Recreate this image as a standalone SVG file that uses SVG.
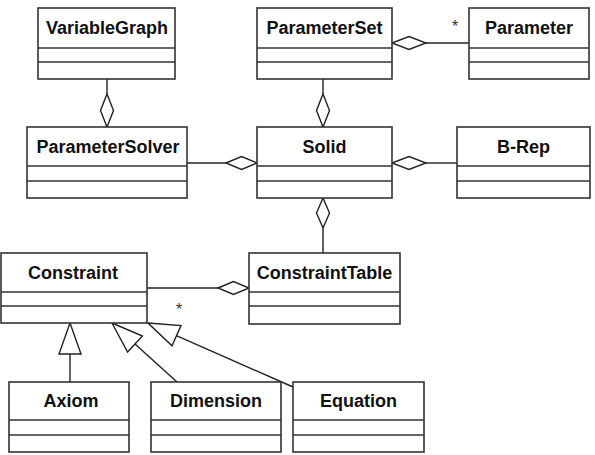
<svg xmlns="http://www.w3.org/2000/svg" width="595" height="455" viewBox="0 0 595 455">
<style>
.box{fill:#fff;stroke:#333;stroke-width:1.6}
.div{stroke:#333;stroke-width:1.6}
.t{font-family:"Liberation Sans",Arial,sans-serif;font-weight:bold;font-size:18px;fill:#111;text-anchor:middle}
.ln{fill:none;stroke:#222;stroke-width:1.4}
.dia{fill:#fff;stroke:#222;stroke-width:1.4}
.m{font-family:"Liberation Sans",Arial,sans-serif;font-size:16px;fill:#333;text-anchor:middle}
</style>
<rect width="595" height="455" fill="#fff"/>
<g id="connectors">
<line class="ln" x1="107" y1="79" x2="107" y2="94"/>
<polygon class="dia" points="107,94 113.5,110.5 107,127 100.5,110.5"/>
<line class="ln" x1="426" y1="43" x2="469" y2="43"/>
<polygon class="dia" points="392,43 409,36.5 426,43 409,49.5"/>
<text class="m" x="455" y="32">*</text>
<line class="ln" x1="323" y1="79" x2="323" y2="94"/>
<polygon class="dia" points="323,94 329.5,110.5 323,127 316.5,110.5"/>
<line class="ln" x1="187" y1="163" x2="226" y2="163"/>
<polygon class="dia" points="226,163 241.5,156.5 257,163 241.5,169.5"/>
<line class="ln" x1="426" y1="163" x2="457" y2="163"/>
<polygon class="dia" points="392,163 409,156.5 426,163 409,169.5"/>
<line class="ln" x1="323" y1="228" x2="323" y2="253"/>
<polygon class="dia" points="323,198 329.5,213 323,228 316.5,213"/>
<line class="ln" x1="147" y1="288" x2="218" y2="288"/>
<polygon class="dia" points="218,288 233.5,281.5 249,288 233.5,294.5"/>
<text class="m" x="179" y="315">*</text>
<line class="ln" x1="70" y1="354" x2="70" y2="382"/>
<polygon class="dia" points="70,323 81,354 59,354"/>
<line class="ln" x1="135" y1="344" x2="177" y2="382"/>
<polygon class="dia" points="112,323 142.4,336 127.6,352"/>
<line class="ln" x1="176.4" y1="335.6" x2="293" y2="387"/>
<polygon class="dia" points="148,323 181,325.5 172,345.7"/>
</g>
<g id="VariableGraph"><rect class="box" x="38" y="8" width="137" height="71"/><line class="div" x1="38" y1="48" x2="175" y2="48"/><line class="div" x1="38" y1="62" x2="175" y2="62"/><text class="t" x="107" y="34">VariableGraph</text></g>
<g id="ParameterSet"><rect class="box" x="257" y="8" width="135" height="71"/><line class="div" x1="257" y1="48" x2="392" y2="48"/><line class="div" x1="257" y1="62" x2="392" y2="62"/><text class="t" x="324.5" y="34">ParameterSet</text></g>
<g id="Parameter"><rect class="box" x="469" y="8" width="120" height="71"/><line class="div" x1="469" y1="48" x2="589" y2="48"/><line class="div" x1="469" y1="62" x2="589" y2="62"/><text class="t" x="529" y="34">Parameter</text></g>
<g id="ParameterSolver"><rect class="box" x="27" y="127" width="160" height="71"/><line class="div" x1="27" y1="166" x2="187" y2="166"/><line class="div" x1="27" y1="181" x2="187" y2="181"/><text class="t" x="108" y="153">ParameterSolver</text></g>
<g id="Solid"><rect class="box" x="257" y="127" width="135" height="71"/><line class="div" x1="257" y1="166" x2="392" y2="166"/><line class="div" x1="257" y1="181" x2="392" y2="181"/><text class="t" x="324.5" y="153">Solid</text></g>
<g id="B-Rep"><rect class="box" x="457" y="127" width="133" height="71"/><line class="div" x1="457" y1="166" x2="590" y2="166"/><line class="div" x1="457" y1="181" x2="590" y2="181"/><text class="t" x="523.5" y="153">B-Rep</text></g>
<g id="Constraint"><rect class="box" x="1" y="253" width="146" height="70"/><line class="div" x1="1" y1="292" x2="147" y2="292"/><line class="div" x1="1" y1="306" x2="147" y2="306"/><text class="t" x="73" y="279">Constraint</text></g>
<g id="ConstraintTable"><rect class="box" x="249" y="253" width="151" height="71"/><line class="div" x1="249" y1="292" x2="400" y2="292"/><line class="div" x1="249" y1="306" x2="400" y2="306"/><text class="t" x="324.5" y="279">ConstraintTable</text></g>
<g id="Axiom"><rect class="box" x="9" y="382" width="120" height="70"/><line class="div" x1="9" y1="420" x2="129" y2="420"/><line class="div" x1="9" y1="435" x2="129" y2="435"/><text class="t" x="71" y="407">Axiom</text></g>
<g id="Dimension"><rect class="box" x="151" y="382" width="130" height="70"/><line class="div" x1="151" y1="420" x2="281" y2="420"/><line class="div" x1="151" y1="435" x2="281" y2="435"/><text class="t" x="216" y="407">Dimension</text></g>
<g id="Equation"><rect class="box" x="293" y="382" width="131" height="70"/><line class="div" x1="293" y1="420" x2="424" y2="420"/><line class="div" x1="293" y1="435" x2="424" y2="435"/><text class="t" x="358.5" y="407">Equation</text></g>
</svg>
